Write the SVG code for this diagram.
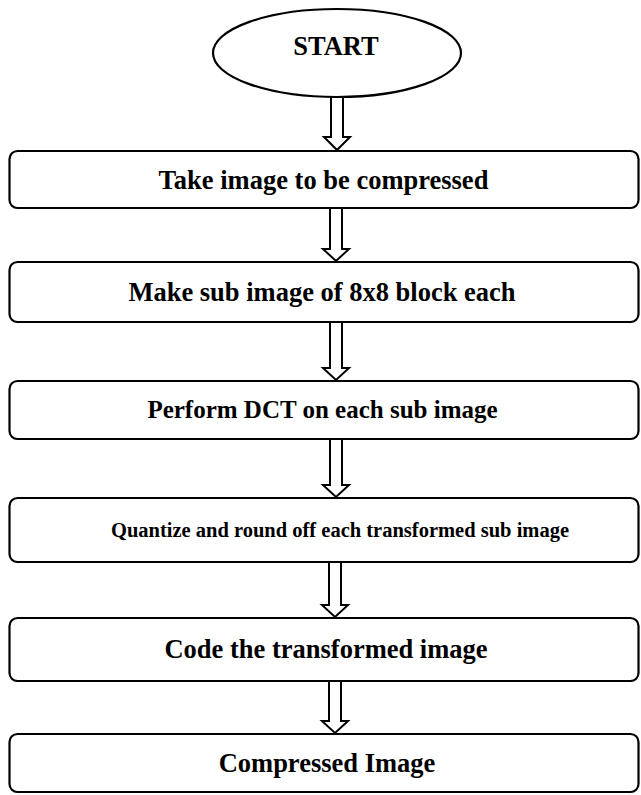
<svg xmlns="http://www.w3.org/2000/svg" width="641" height="795" viewBox="0 0 641 795">
  <style>
    .shape { fill: #ffffff; stroke: #000000; stroke-width: 2.2; }
    .label { font-family: "Liberation Serif", "DejaVu Serif", serif; font-weight: bold; fill: #000000; text-anchor: middle; font-size: 26.5px; }
    .medium { font-size: 25px; }
    .small { font-size: 20.5px; }
    .arrow { fill: #ffffff; stroke: #000000; stroke-width: 2; stroke-linejoin: miter; }
  </style>
  <rect width="641" height="795" fill="#ffffff"/>

  <g id="start">
    <ellipse class="shape" cx="337" cy="53" rx="124" ry="44"/>
    <text class="label" x="336" y="55">START</text>
  </g>

  <g id="step-take-image">
    <rect class="shape" x="9.5" y="151" width="629" height="57" rx="8"/>
    <text class="label" x="323.5" y="189">Take image to be compressed</text>
  </g>

  <g id="step-sub-image">
    <rect class="shape" x="9.5" y="262" width="629" height="60" rx="8"/>
    <text class="label" x="322" y="301">Make sub image of 8x8 block each</text>
  </g>

  <g id="step-dct">
    <rect class="shape" x="9.5" y="381" width="629" height="58" rx="8"/>
    <text class="label medium" x="322.5" y="418">Perform DCT on each sub image</text>
  </g>

  <g id="step-quantize">
    <rect class="shape" x="9.5" y="498" width="629" height="64" rx="8"/>
    <text class="label small" x="340" y="537">Quantize and round off each transformed sub image</text>
  </g>

  <g id="step-code">
    <rect class="shape" x="9.5" y="618" width="629" height="63" rx="8"/>
    <text class="label" x="326" y="658">Code the transformed image</text>
  </g>

  <g id="end-compressed">
    <rect class="shape" x="9.5" y="734" width="629" height="58" rx="8"/>
    <text class="label" x="327" y="772">Compressed Image</text>
  </g>

  <g id="connectors">
    <polygon class="arrow" points="331,97 343,97 343,137 350,137 337,150 324,137 331,137"/>
    <polygon class="arrow" points="330,208 342,208 342,249 349,249 336,261 323,249 330,249"/>
    <polygon class="arrow" points="330,322 342,322 342,368 349,368 336,380 323,368 330,368"/>
    <polygon class="arrow" points="330,439 342,439 342,485 349,485 336,497 323,485 330,485"/>
    <polygon class="arrow" points="329,562 341,562 341,605 348,605 335,617 322,605 329,605"/>
    <polygon class="arrow" points="329,681 341,681 341,721 348,721 335,733 322,721 329,721"/>
  </g>
</svg>
